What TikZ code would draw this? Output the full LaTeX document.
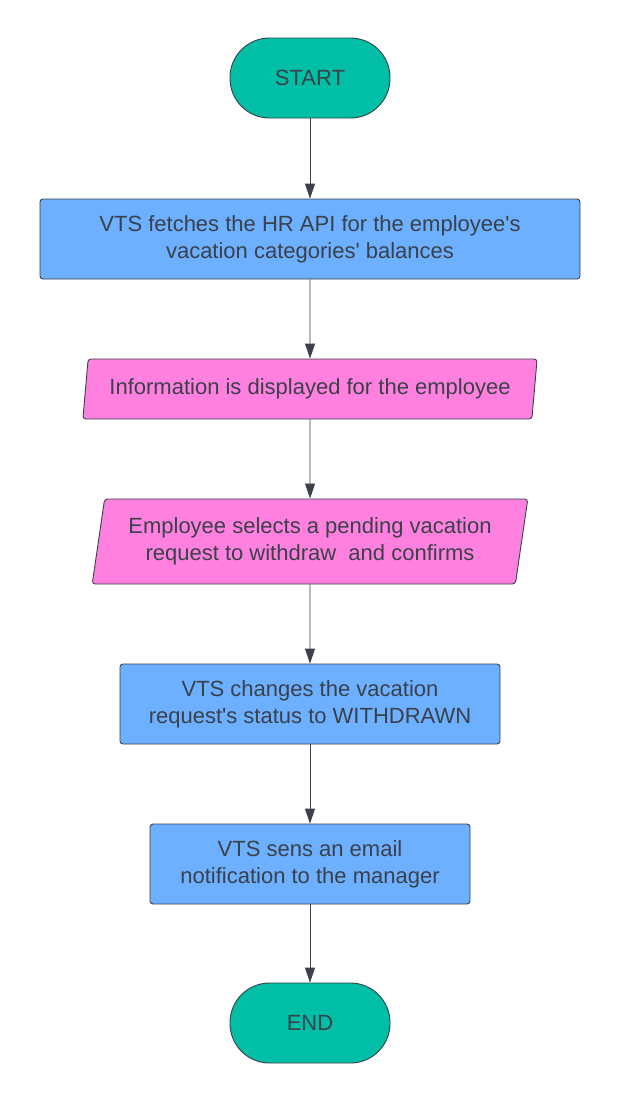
\documentclass[tikz,border=0pt]{standalone}
\usepackage{fontspec}
\setmainfont{Liberation Sans}
\usepackage{tikz}
\usetikzlibrary{shapes.geometric}
\usetikzlibrary{arrows.meta}

\definecolor{termfill}{HTML}{00BFA6}
\definecolor{procfill}{HTML}{6CB0FF}
\definecolor{iofill}{HTML}{FF80DF}
\definecolor{inkgray}{HTML}{3A414A}

\tikzset{
  terminal/.style={draw=inkgray,fill=termfill,line width=0.9pt,
    minimum width=160pt,minimum height=80pt,rounded corners=39.5pt,
    text=inkgray,font=\fontsize{22}{27}\selectfont,inner sep=0pt},
  process/.style={draw=inkgray,fill=procfill,line width=0.9pt,
    minimum height=80pt,rounded corners=3pt,align=center,
    text=inkgray,font=\fontsize{22}{27}\selectfont,inner sep=0pt},
  inout/.style={draw=inkgray,fill=iofill,line width=0.9pt,
    trapezium,trapezium stretches=true,
    trapezium left angle=77,trapezium right angle=103,
    rounded corners=3pt,align=center,
    text=inkgray,font=\fontsize{22}{27}\selectfont,inner sep=0pt},
  flowarrow/.style={draw=inkgray,line width=0.9pt,
    -{Triangle[width=10pt,length=15pt]}}
}

\begin{document}
\begin{tikzpicture}[x=1pt,y=-1pt]
      \useasboundingbox (0,0) rectangle (620,1104);

      % start and end
      \node[terminal] (start) at (310,78) {START};
      \node[terminal] (end) at (310,1023) {END};

      % fetching the balances
      \node[process,minimum width=540pt] (fetch) at (310,239)
      {VTS fetches the HR API for the employee\textquotesingle s\\
       vacation categories\textquotesingle\ balances};

      % what the employee sees and does
      \node[inout,minimum width=456pt,minimum height=60pt] (display)
      at (310,389)
      {Information is displayed for the employee};
      \node[inout,minimum width=436pt,minimum height=85pt] (select)
      at (310,541.5)
      {Employee selects a pending vacation\\
       request to withdraw\ \ and confirms};

      % status change and notification
      \node[process,minimum width=380pt] (status) at (310,704)
      {VTS changes the vacation\\
       request\textquotesingle s status to WITHDRAWN};
      \node[process,minimum width=320pt] (notify) at (310,864)
      {VTS sens an email\\
       notification to the manager};

      % arrows
      \foreach \a/\b in {start/fetch,fetch/display,display/select,
                         select/status,status/notify,notify/end}
               {
                 \draw[flowarrow] (\a.south) -- (\b.north);
               }
\end{tikzpicture}
\end{document}
